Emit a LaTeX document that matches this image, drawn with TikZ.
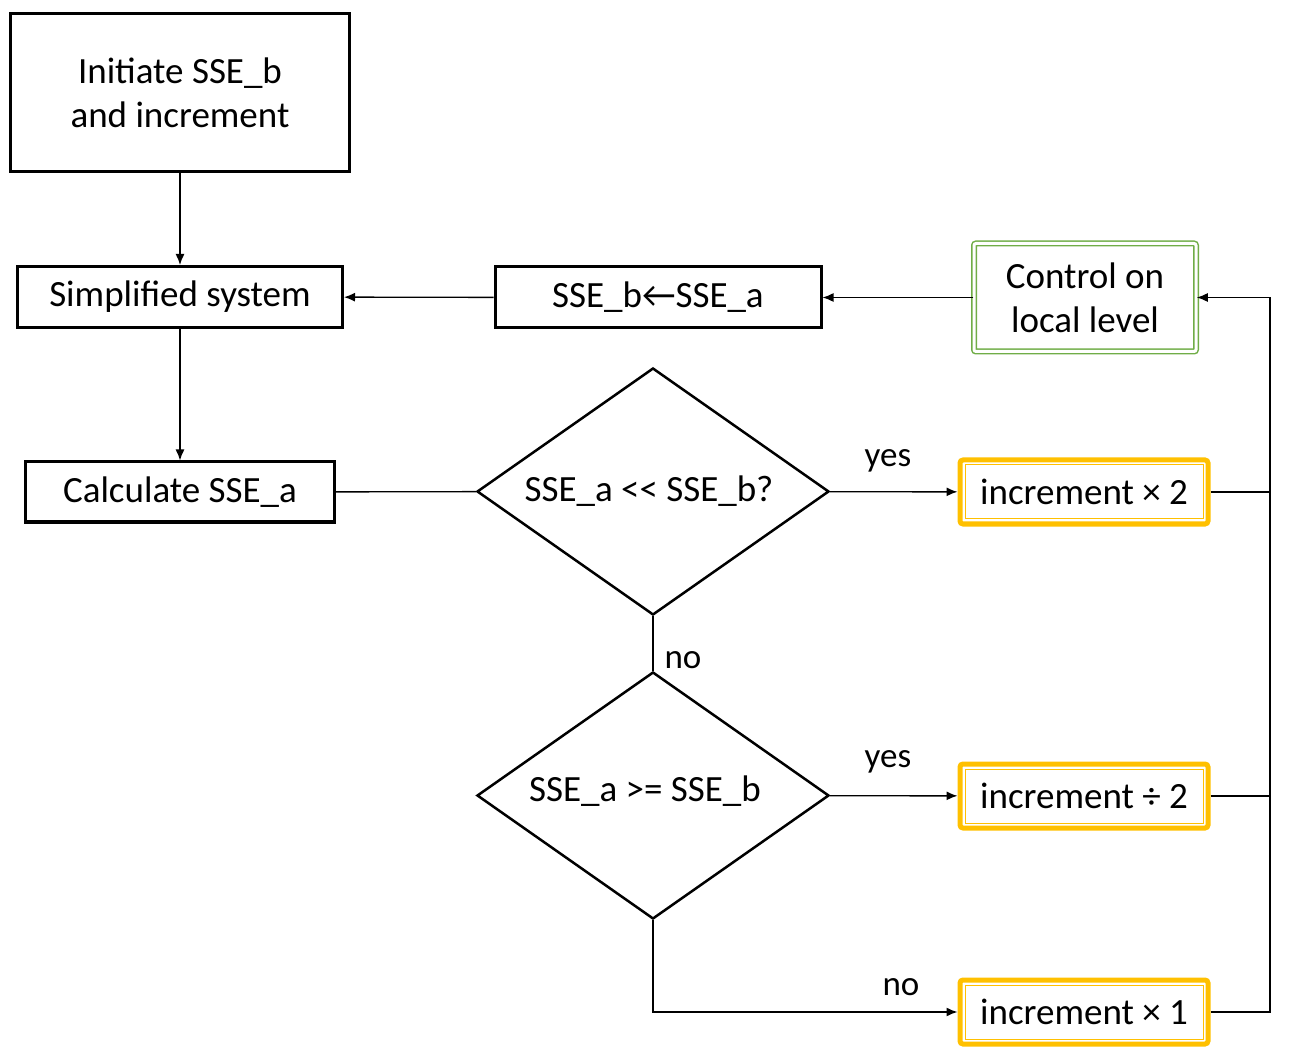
\documentclass[tikz,border=0pt]{standalone}
\usepackage{fontspec}
\setmainfont{Carlito}
\usetikzlibrary{arrows.meta,shapes.geometric}
\definecolor{yel}{HTML}{FFC000}
\definecolor{grn}{HTML}{70AD47}
\begin{document}
\begin{tikzpicture}[x=1pt,y=-1pt,
  font=\fontsize{37}{44}\selectfont,
  box/.style={draw=black, line width=3pt, rectangle, inner sep=0pt, align=center},
  dia/.style={draw=black, line width=2.5pt, diamond, inner sep=0pt, minimum width=352pt, minimum height=247pt},
  ybox/.style={draw=yel, line width=5pt, rounded corners=3pt, rectangle, inner sep=0pt,
    minimum width=248pt, minimum height=64pt,
    path picture={\draw[yel, line width=1pt, sharp corners] ([shift={(5pt,-5pt)}]path picture bounding box.north west) rectangle ([shift={(-5pt,5pt)}]path picture bounding box.south east);}},
  gbox/.style={draw=grn, line width=1.5pt, double=white, double distance=3pt, rounded corners=2pt, rectangle, inner sep=0pt, align=center,
    minimum width=222pt, minimum height=108pt},
  conn/.style={line width=1.4pt},
  arr/.style={conn, -{Latex[length=11pt,width=9pt]}},
  lbl/.style={font=\fontsize{35}{42}\selectfont, inner sep=2pt}
]
\useasboundingbox (0,0) rectangle (1302,1056);

\node[box, minimum width=339pt, minimum height=158pt] (init) at (180,93) {Initiate SSE\_b\\and increment};
\node[box, minimum width=325pt, minimum height=61pt] (simp) at (180,297) {Simplified system};
\node[box, minimum width=309pt, minimum height=60pt] (calc) at (180,492) {Calculate SSE\_a};
\node[box, minimum width=326pt, minimum height=61pt] (sseb) at (658,297.5) {SSE\_b←SSE\_a};
\node[gbox] (ctrl) at (1085,297.5) {Control on\\local level};

\node[dia] (d1) at (653,491.5) {};
\node (t1) at (649,491) {SSE\_a <{}< SSE\_b?};
\node[dia] (d2) at (653,795.5) {};
\node (t2) at (645,791) {SSE\_a >= SSE\_b};

\node[ybox] (i2) at (1084,492) {increment × 2};
\node[ybox] (id) at (1084,796) {increment ÷ 2};
\node[ybox] (i1) at (1084,1012) {increment × 1};

\coordinate (bus) at (1270,297.5);

\draw[arr] (init) -- (simp);
\draw[arr] (simp) -- (calc);
\draw[arr] (sseb) -- (simp);
\draw[arr] (ctrl) -- (sseb);
\draw[conn] (calc) -- (d1);
\draw[arr] (d1) -- (i2);
\node[lbl] (y1) at (888,461) {yes};
\draw[conn] (d1) -- (d2);
\node[lbl] (n1) at (683,660) {no};
\draw[arr] (d2) -- (id);
\node[lbl] (y2) at (888,762) {yes};
\draw[arr] (d2.south) |- (i1.west);
\node[lbl] (n2) at (901,987) {no};

\draw[conn] (i2.east) -- (i2.east -| bus);
\draw[conn] (id.east) -- (id.east -| bus);
\draw[arr] (i1.east) -- (i1.east -| bus) -- (bus) -- (ctrl.east);
\end{tikzpicture}
\end{document}
